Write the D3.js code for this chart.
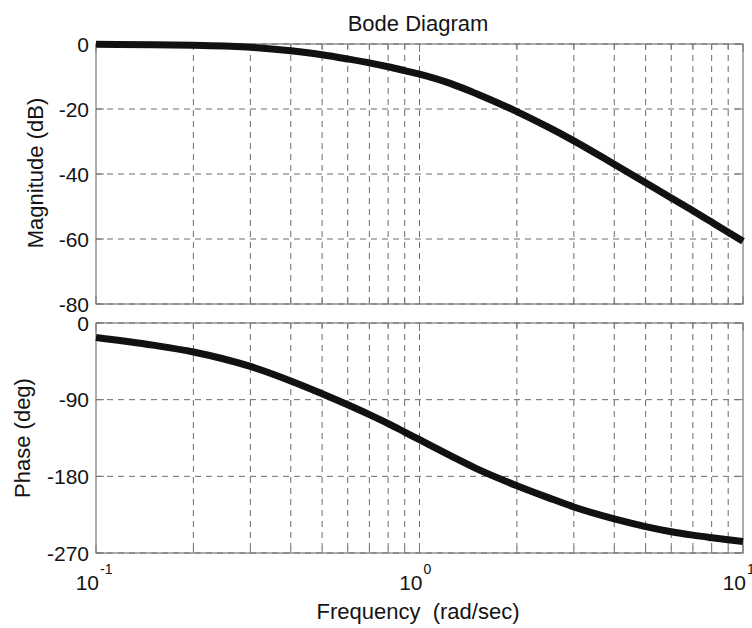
<!DOCTYPE html>
<html>
<head>
<meta charset="utf-8">
<script src="https://cdn.jsdelivr.net/npm/d3@7"></script>
<style>
  html, body { margin: 0; padding: 0; background: #fff; }
  svg { display: block; }
  text { font-family: "Liberation Sans", Arial, sans-serif; fill: #141414; }
</style>
</head>
<body>
<svg id="chart" width="752" height="628"></svg>
<script>
// ---- Data ----
const frequency = [0.1, 0.15, 0.2, 0.3, 0.4, 0.5, 0.6, 0.7, 0.8, 0.9, 1, 1.25, 1.5, 2, 2.5, 3, 4, 5, 6, 7, 8, 9, 10];
const magnitudeDb = [-0.1, -0.2, -0.4, -1.0, -2.1, -3.3, -4.6, -5.8, -7.0, -8.2, -9.3, -12.2, -15.3, -20.8, -25.6, -29.8, -37.0, -42.7, -47.4, -51.3, -54.8, -57.9, -60.7];
const phaseDeg = [-17, -26, -34, -51, -68, -83, -96, -107.5, -118, -128, -137, -156, -171, -191, -205, -216, -230, -239, -245, -249, -252, -254.5, -256.5];

const magTicks = [0, -20, -40, -60, -80];
const phaseTicks = [0, -90, -180, -270];
const freqMajorTicks = [0.1, 1, 10];
const freqTickExponents = ["-1", "0", "1"];
const freqGridTicks = [0.2, 0.3, 0.4, 0.5, 0.6, 0.7, 0.8, 0.9, 1, 2, 3, 4, 5, 6, 7, 8, 9];

const titleText = "Bode Diagram";
const magLabel = "Magnitude (dB)";
const phaseLabel = "Phase (deg)";
const freqLabel = "Frequency  (rad/sec)";

// ---- Layout ----
const svg = d3.select("#chart");
const left = 96, right = 743;
const magTop = 44, magBottom = 304;
const phTop = 323, phBottom = 553;

const x = d3.scaleLog().domain([0.1, 10]).range([left, right]);
const yMag = d3.scaleLinear().domain([-80, 0]).range([magBottom, magTop]);
const yPh = d3.scaleLinear().domain([-270, 0]).range([phBottom, phTop]);

const gridColor = "#6a6a6a";
const borderColor = "#777";

function panel(yScale, yTicks, top, bottom, values) {
  const g = svg.append("g");
  g.selectAll(".vg").data(freqGridTicks).join("line")
    .attr("x1", d => x(d)).attr("x2", d => x(d))
    .attr("y1", top).attr("y2", bottom)
    .attr("stroke", gridColor).attr("stroke-width", 1)
    .attr("stroke-dasharray", "6,5");
  g.selectAll(".hg").data(yTicks).join("line")
    .attr("x1", left).attr("x2", right)
    .attr("y1", d => yScale(d)).attr("y2", d => yScale(d))
    .attr("stroke", gridColor).attr("stroke-width", 1)
    .attr("stroke-dasharray", "6,5");
  const tl = 5;
  g.selectAll(".tb").data(freqGridTicks.concat(freqMajorTicks)).join("line")
    .attr("x1", d => x(d)).attr("x2", d => x(d))
    .attr("y1", bottom).attr("y2", d => bottom - (freqMajorTicks.includes(d) ? 8 : tl))
    .attr("stroke", borderColor);
  g.selectAll(".tt").data(freqGridTicks.concat(freqMajorTicks)).join("line")
    .attr("x1", d => x(d)).attr("x2", d => x(d))
    .attr("y1", top).attr("y2", d => top + (freqMajorTicks.includes(d) ? 8 : tl))
    .attr("stroke", borderColor);
  g.selectAll(".tl").data(yTicks).join("line")
    .attr("x1", left).attr("x2", left + 8)
    .attr("y1", d => yScale(d)).attr("y2", d => yScale(d))
    .attr("stroke", borderColor);
  g.selectAll(".tr").data(yTicks).join("line")
    .attr("x1", right).attr("x2", right - 8)
    .attr("y1", d => yScale(d)).attr("y2", d => yScale(d))
    .attr("stroke", borderColor);
  g.append("rect")
    .attr("x", left).attr("y", top)
    .attr("width", right - left).attr("height", bottom - top)
    .attr("fill", "none").attr("stroke", borderColor).attr("stroke-width", 1.2);
  g.selectAll(".yl").data(yTicks).join("text")
    .attr("x", left - 7).attr("y", d => yScale(d))
    .attr("dy", "0.36em")
    .attr("text-anchor", "end")
    .attr("font-size", 21)
    .text(d => d);
  const line = d3.line()
    .x((d, i) => x(frequency[i]))
    .y(d => yScale(d))
    .curve(d3.curveMonotoneX);
  g.append("path")
    .attr("d", line(values))
    .attr("fill", "none")
    .attr("stroke", "#111")
    .attr("stroke-width", 7)
    .attr("stroke-linejoin", "round")
    .attr("stroke-linecap", "butt");
}

panel(yMag, magTicks, magTop, magBottom, magnitudeDb);
panel(yPh, phaseTicks, phTop, phBottom, phaseDeg);

// x tick labels (10^n)
const xl = svg.append("g");
freqMajorTicks.forEach((f, i) => {
  xl.append("text")
    .attr("x", x(f) + 3).attr("y", 590)
    .attr("text-anchor", "end")
    .attr("font-size", 21)
    .text("10");
  xl.append("text")
    .attr("x", x(f) + 4).attr("y", 574)
    .attr("font-size", 14)
    .text(freqTickExponents[i]);
});

// titles and axis labels
svg.append("text")
  .attr("x", 418).attr("y", 31)
  .attr("text-anchor", "middle")
  .attr("font-size", 22)
  .text(titleText);

svg.append("text")
  .attr("x", 418).attr("y", 619)
  .attr("text-anchor", "middle")
  .attr("font-size", 22)
  .style("white-space", "pre")
  .text(freqLabel);

svg.append("text")
  .attr("transform", "translate(43,173) rotate(-90)")
  .attr("text-anchor", "middle")
  .attr("font-size", 22)
  .text(magLabel);

svg.append("text")
  .attr("transform", "translate(30,438) rotate(-90)")
  .attr("text-anchor", "middle")
  .attr("font-size", 22)
  .text(phaseLabel);
</script>
</body>
</html>
